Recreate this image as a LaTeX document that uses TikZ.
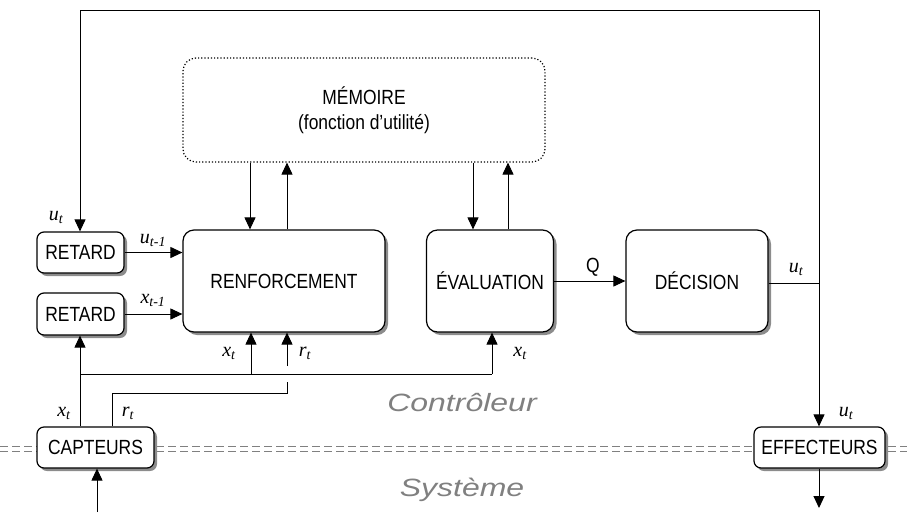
\documentclass[tikz,border=0pt]{standalone}
\usepackage{fontspec}
\setmainfont{Liberation Sans}
\newfontfamily\boxfont{Liberation Sans}[FakeStretch=0.85]
\newfontfamily\zonefont{Liberation Sans Italic}[FakeStretch=1.28]
\newfontfamily\labfont{Liberation Serif}
\usetikzlibrary{arrows.meta,shadows}
\begin{document}
\begin{tikzpicture}[x=1pt,y=-1pt,
  blk/.style={draw,line width=1.2pt,fill=white,rounded corners=11pt,
    drop shadow={shadow xshift=3pt,shadow yshift=-3pt,fill=black!45,opacity=1},
    font=\boxfont\fontsize{20.5}{22}\selectfont,inner sep=0pt},
  sblk/.style={blk,rounded corners=7pt},
  arr/.style={line width=1pt,-{Triangle[length=12pt,width=11pt]}},
  ln/.style={line width=1pt},
  lab/.style={font=\labfont\itshape\fontsize{20}{22}\selectfont,inner sep=0pt,anchor=base},
  zone/.style={font=\zonefont\fontsize{25}{28}\selectfont,text=black!50,inner sep=0pt,anchor=base},
  sep/.style={draw=black!50,line width=1pt,dash pattern=on 8pt off 4pt}
]
\useasboundingbox (0,0) rectangle (907,512);
% separator
\draw[sep] (0,446) -- (907,446);
\draw[sep] (0,451) -- (907,451);
% boxes
\node[draw,line width=1.2pt,dotted,rounded corners=13pt,minimum width=362pt,minimum height=104pt,inner sep=0pt,align=center,font=\boxfont\fontsize{20.5}{25}\selectfont] (mem) at (364,110) {MÉMOIRE\\(fonction d’utilité)};
\node[blk,minimum width=202pt,minimum height=102pt] (ren) at (284,281) {RENFORCEMENT};
\node[blk,minimum width=127pt,minimum height=102pt] (eva) at (490,281) {ÉVALUATION};
\node[blk,minimum width=142pt,minimum height=102pt] (dec) at (697,281) {DÉCISION};
\node[sblk,minimum width=87pt,minimum height=41pt] (ret1) at (80.5,252.5) {RETARD};
\node[sblk,minimum width=87pt,minimum height=42pt] (ret2) at (80.5,314) {RETARD};
\node[sblk,minimum width=117pt,minimum height=41pt] (cap) at (95.5,447.5) {CAPTEURS};
\node[sblk,minimum width=131pt,minimum height=41pt] (eff) at (819.5,447.5) {EFFECTEURS};
% coordinates
\coordinate (tl) at (80,10);
\coordinate (tr) at (819,10);
\coordinate (dr) at (819,283);
\coordinate (hl) at (80,374);
\coordinate (hx) at (251,374);
\coordinate (he) at (492,374);
\coordinate (rl) at (112,393);
\coordinate (rr) at (287,393);
\coordinate (rg1) at (287,382);
\coordinate (rg2) at (287,366);
\coordinate (cin) at (97,512);
\coordinate (eout) at (819,508);
% memory links
\draw[arr] (mem.south -| 250,0) -- (ren.north -| 250,0);
\draw[arr] (ren.north -| 287,0) -- (mem.south -| 287,0);
\draw[arr] (mem.south -| 473,0) -- (eva.north -| 473,0);
\draw[arr] (eva.north -| 508,0) -- (mem.south -| 508,0);
% top loop
\draw[arr] (tr) -- (tl) -- (ret1.north -| tl);
\draw[ln] (dec.east |- dr) -- (dr);
\draw[arr] (tr) -- (eff.north -| tr);
\draw[arr] (eff.south -| eout) -- (eout);
% Q
\draw[arr] (eva.east |- dec.west) -- (dec.west);
% retard outputs
\draw[arr] (ret1.east) -- (ren.west |- ret1.east);
\draw[arr] (ret2.east) -- (ren.west |- ret2.east);
% x_t lines
\draw[arr] (cap.north -| hl) -- (ret2.south -| hl);
\draw[ln] (hl) -- (he);
\draw[arr] (hx) -- (ren.south -| hx);
\draw[arr] (he) -- (eva.south -| he);
% r_t line
\draw[ln] (cap.north -| rl) -- (rl) -- (rr) -- (rg1);
\draw[arr] (rg2) -- (ren.south -| rg2);
\draw[arr] (cin) -- (cap.south -| cin);
% labels
\node[lab] (l1) at (56,220) {u\textsubscript{t}};
\node[lab] (l2) at (153,243) {u\textsubscript{t-1}};
\node[lab] (l3) at (153,303) {x\textsubscript{t-1}};
\node[lab] (l4) at (229,356) {x\textsubscript{t}};
\node[lab] (l5) at (305,356) {r\textsubscript{t}};
\node[lab] (l6) at (520,356) {x\textsubscript{t}};
\node[lab] (l7) at (64,416) {x\textsubscript{t}};
\node[lab] (l8) at (128,416) {r\textsubscript{t}};
\node[lab] (l9) at (846,416) {u\textsubscript{t}};
\node[lab] (l10) at (796,272) {u\textsubscript{t}};
\node[font=\boxfont\fontsize{20.5}{22}\selectfont,inner sep=0pt,anchor=base] (q) at (593,272) {Q};
\node[zone] (ctl) at (462,411) {Contrôleur};
\node[zone] (sys) at (462,496) {Système};
\end{tikzpicture}
\end{document}
